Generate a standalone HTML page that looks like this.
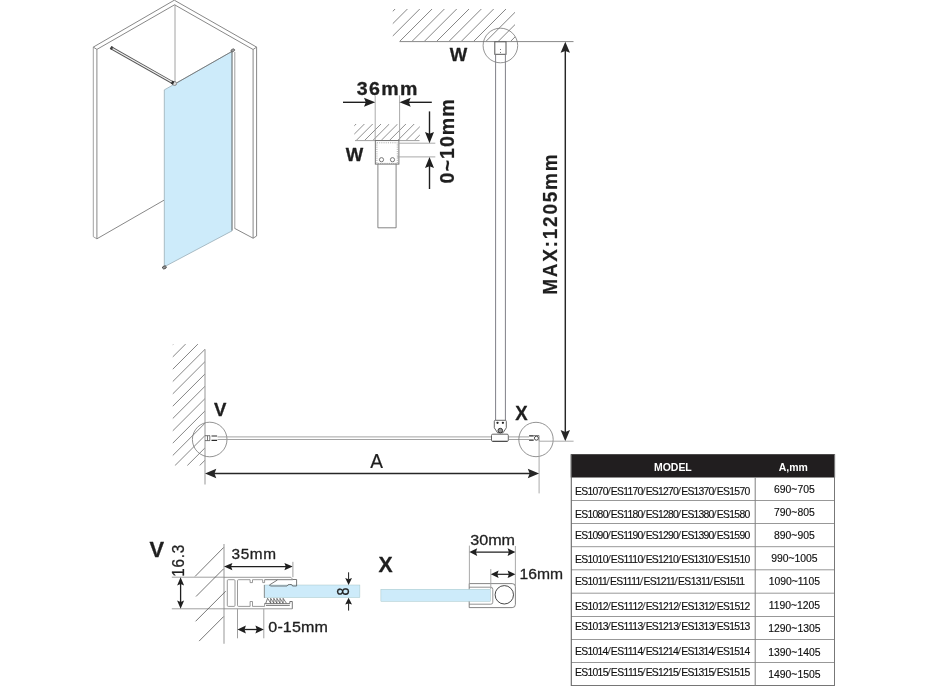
<!DOCTYPE html>
<html lang="en"><head><meta charset="utf-8"><title>Walk-in shower technical drawing</title>
<style>
html,body{margin:0;padding:0;background:#fff;}
body{width:928px;height:686px;overflow:hidden;}
svg{display:block;will-change:transform;font-family:"Liberation Sans",Arial,Helvetica,sans-serif;}
</style></head><body>
<svg width="928" height="686" viewBox="0 0 928 686">
<rect width="928" height="686" fill="#fff"/>
<g fill="none" stroke="#7a7a7a" stroke-width="0.9" stroke-linejoin="round">
<polyline points="93.3,47.1 174.3,0.2 256.6,47.1"/>
<polyline points="96.9,49.4 174.6,4.8 253.1,49.5"/>
<polyline points="93.3,47.1 93.3,236.7 96.9,238.8" stroke="#999"/>
<line x1="96.9" y1="238.8" x2="96.9" y2="49.4"/>
<line x1="93.3" y1="47.1" x2="96.9" y2="49.4"/>
<line x1="96.9" y1="238.8" x2="164" y2="200.2"/>
<line x1="175" y1="4.8" x2="175" y2="82" stroke="#8c8c8c" stroke-width="0.8"/>
<polyline points="256.6,47.1 256.6,236 253.1,238.2 253.1,49.5"/>
<line x1="256.6" y1="47.1" x2="253.1" y2="49.5"/>
<line x1="234.5" y1="228.3" x2="253.1" y2="238.2"/>
<line x1="234.8" y1="52" x2="234.8" y2="228.3" stroke="#888" stroke-width="0.8"/>
</g>
<polygon points="164.3,89.9 232,51.4 232,230.9 164.3,266.8" fill="#cdebfa" stroke="#8fa3ad" stroke-width="0.7"/>
<line x1="232" y1="51.4" x2="232" y2="230.5" stroke="#666" stroke-width="0.8"/>
<line x1="177" y1="82.7" x2="232" y2="51.4" stroke="#6c6c6c" stroke-width="0.8"/>
<g stroke-linecap="butt">
<line x1="110.8" y1="47.6" x2="173.6" y2="83.2" stroke="#555" stroke-width="3"/>
<line x1="111.5" y1="48" x2="172.6" y2="82.6" stroke="#f2f2f2" stroke-width="1.2"/>
</g>
<circle cx="174.6" cy="83.5" r="2" fill="#ddd" stroke="#777" stroke-width="0.8"/>
<line x1="171.6" y1="82" x2="173.6" y2="83.2" stroke="#333" stroke-width="3.4"/>
<line x1="110.6" y1="47.4" x2="112.6" y2="48.6" stroke="#444" stroke-width="3.4"/>
<ellipse cx="232.8" cy="50.4" rx="2" ry="1.3" fill="#999" stroke="#555" stroke-width="0.7" transform="rotate(-25 232.8 50.4)"/>
<ellipse cx="164.4" cy="267.4" rx="2" ry="1.4" fill="#999" stroke="#444" stroke-width="0.8" transform="rotate(-20 164.4 267.4)"/>
<clipPath id="hc1"><rect x="354.3" y="124" width="65.5" height="16.400000000000006"/></clipPath>
<g clip-path="url(#hc1)" stroke="#6a6a6a" stroke-width="0.75">
<line x1="339.70" y1="140.40" x2="356.10" y2="124.00"/>
<line x1="348.00" y1="140.40" x2="364.40" y2="124.00"/>
<line x1="356.30" y1="140.40" x2="372.70" y2="124.00"/>
<line x1="364.60" y1="140.40" x2="381.00" y2="124.00"/>
<line x1="372.90" y1="140.40" x2="389.30" y2="124.00"/>
<line x1="381.20" y1="140.40" x2="397.60" y2="124.00"/>
<line x1="389.50" y1="140.40" x2="405.90" y2="124.00"/>
<line x1="397.80" y1="140.40" x2="414.20" y2="124.00"/>
<line x1="406.10" y1="140.40" x2="422.50" y2="124.00"/>
<line x1="414.40" y1="140.40" x2="430.80" y2="124.00"/>
</g>
<line x1="355.00" y1="140.60" x2="419.50" y2="140.60" stroke="#a0a0a0" stroke-width="1" />
<line x1="375.20" y1="95.40" x2="375.20" y2="140.60" stroke="#a0a0a0" stroke-width="0.9" />
<line x1="399.60" y1="95.40" x2="399.60" y2="140.60" stroke="#a0a0a0" stroke-width="0.9" />
<rect x="375.3" y="140.6" width="23.6" height="23.5" fill="#fff" stroke="#666" stroke-width="0.9"/>
<rect x="376.9" y="142.8" width="20.4" height="20.6" fill="none" stroke="#777" stroke-width="0.6" stroke-dasharray="1.1 1.1"/>
<circle cx="381.5" cy="159.7" r="2.1" fill="#fff" stroke="#444" stroke-width="0.7"/>
<circle cx="392.5" cy="159.7" r="2.1" fill="#fff" stroke="#444" stroke-width="0.7"/>
<polyline points="377.9,164.2 377.9,227.8 396.1,227.8 396.1,164.2" fill="none" stroke="#777" stroke-width="0.9"/>
<line x1="398.90" y1="143.20" x2="435.30" y2="143.20" stroke="#a0a0a0" stroke-width="0.9" />
<line x1="397.30" y1="156.90" x2="435.30" y2="156.90" stroke="#a0a0a0" stroke-width="0.9" />
<line x1="343.00" y1="102.30" x2="366.24" y2="102.30" stroke="#1f1f1f" stroke-width="1.4"/>
<polygon points="375.20,102.30 364.00,106.80 365.79,102.30 364.00,97.80" fill="#1f1f1f"/>
<line x1="431.80" y1="102.30" x2="408.46" y2="102.30" stroke="#1f1f1f" stroke-width="1.4"/>
<polygon points="399.50,102.30 410.70,97.80 408.91,102.30 410.70,106.80" fill="#1f1f1f"/>
<line x1="429.50" y1="111.40" x2="429.50" y2="134.24" stroke="#1f1f1f" stroke-width="1.4"/>
<polygon points="429.50,143.20 425.00,132.00 429.50,133.79 434.00,132.00" fill="#1f1f1f"/>
<line x1="429.50" y1="189.00" x2="429.50" y2="165.86" stroke="#1f1f1f" stroke-width="1.4"/>
<polygon points="429.50,156.90 434.00,168.10 429.50,166.31 425.00,168.10" fill="#1f1f1f"/>
<text transform="translate(356.76 94.57) scale(1.0700 1)" fill="#1f1f1f" font-size="18.31" font-weight="bold" letter-spacing="1.291" stroke="#1f1f1f" stroke-width="0.3" stroke-linejoin="round">36mm</text>
<text transform="translate(453.90 183.48) rotate(-90) scale(0.9650 1)" fill="#1f1f1f" font-size="20.28" font-weight="bold" letter-spacing="1.115" stroke="#1f1f1f" stroke-width="0.2" stroke-linejoin="round">0~10mm</text>
<text transform="translate(345.75 161.35) scale(1.0057 1)" fill="#1f1f1f" font-size="18.41" font-weight="bold" stroke="#1f1f1f" stroke-width="0.3" stroke-linejoin="round">W</text>
<clipPath id="hc2"><rect x="392.8" y="9" width="122.19999999999999" height="32.3"/></clipPath>
<g clip-path="url(#hc2)" stroke="#666" stroke-width="0.8">
<line x1="362.80" y1="41.30" x2="395.10" y2="9.00"/>
<line x1="375.12" y1="41.30" x2="407.42" y2="9.00"/>
<line x1="387.44" y1="41.30" x2="419.74" y2="9.00"/>
<line x1="399.76" y1="41.30" x2="432.06" y2="9.00"/>
<line x1="412.08" y1="41.30" x2="444.38" y2="9.00"/>
<line x1="424.40" y1="41.30" x2="456.70" y2="9.00"/>
<line x1="436.72" y1="41.30" x2="469.02" y2="9.00"/>
<line x1="449.04" y1="41.30" x2="481.34" y2="9.00"/>
<line x1="461.36" y1="41.30" x2="493.66" y2="9.00"/>
<line x1="473.68" y1="41.30" x2="505.98" y2="9.00"/>
<line x1="486.00" y1="41.30" x2="518.30" y2="9.00"/>
<line x1="498.32" y1="41.30" x2="530.62" y2="9.00"/>
<line x1="510.64" y1="41.30" x2="542.94" y2="9.00"/>
</g>
<line x1="399.50" y1="41.60" x2="573.50" y2="41.60" stroke="#888" stroke-width="1" />
<circle cx="500.4" cy="45.5" r="17.3" fill="none" stroke="#777" stroke-width="0.8"/>
<rect x="494.8" y="41.8" width="11.2" height="12.5" fill="#fff" stroke="#555" stroke-width="1"/>
<circle cx="500.5" cy="49.4" r="0.5" fill="#555"/>
<circle cx="500.5" cy="52.6" r="0.5" fill="#555"/>
<line x1="495.60" y1="54.40" x2="495.60" y2="420.40" stroke="#808088" stroke-width="1" />
<line x1="505.40" y1="54.40" x2="505.40" y2="420.40" stroke="#808088" stroke-width="1" />
<text transform="translate(449.65 60.85) scale(0.9750 1)" fill="#1f1f1f" font-size="18.99" font-weight="bold" stroke="#1f1f1f" stroke-width="0.3" stroke-linejoin="round">W</text>
<line x1="565.30" y1="432.32" x2="565.30" y2="50.58" stroke="#262626" stroke-width="1.45"/>
<polygon points="565.30,41.70 570.00,52.80 565.30,51.02 560.60,52.80" fill="#262626"/>
<polygon points="565.30,441.20 570.00,430.10 565.30,431.88 560.60,430.10" fill="#262626"/>
<text transform="translate(557.40 294.74) rotate(-90) scale(0.9650 1)" fill="#1f1f1f" font-size="19.72" font-weight="bold" letter-spacing="1.802" stroke="#1f1f1f" stroke-width="0.2" stroke-linejoin="round">MAX:1205mm</text>
<clipPath id="hc3"><rect x="172.8" y="344.1" width="32.19999999999999" height="121.59999999999997"/></clipPath>
<g clip-path="url(#hc3)" stroke="#707070" stroke-width="0.85">
<line x1="51.64" y1="465.70" x2="173.24" y2="344.10"/>
<line x1="63.96" y1="465.70" x2="185.56" y2="344.10"/>
<line x1="76.28" y1="465.70" x2="197.88" y2="344.10"/>
<line x1="88.60" y1="465.70" x2="210.20" y2="344.10"/>
<line x1="100.92" y1="465.70" x2="222.52" y2="344.10"/>
<line x1="113.24" y1="465.70" x2="234.84" y2="344.10"/>
<line x1="125.56" y1="465.70" x2="247.16" y2="344.10"/>
<line x1="137.88" y1="465.70" x2="259.48" y2="344.10"/>
<line x1="150.20" y1="465.70" x2="271.80" y2="344.10"/>
<line x1="162.52" y1="465.70" x2="284.12" y2="344.10"/>
<line x1="174.84" y1="465.70" x2="296.44" y2="344.10"/>
<line x1="187.16" y1="465.70" x2="308.76" y2="344.10"/>
<line x1="199.48" y1="465.70" x2="321.08" y2="344.10"/>
</g>
<line x1="205.00" y1="349.20" x2="205.00" y2="484.50" stroke="#a0a0a0" stroke-width="1.1" />
<circle cx="209.7" cy="439.5" r="17.3" fill="none" stroke="#777" stroke-width="0.8"/>
<line x1="217.50" y1="436.90" x2="492.00" y2="436.90" stroke="#999" stroke-width="0.9" />
<line x1="217.50" y1="439.50" x2="492.00" y2="439.50" stroke="#999" stroke-width="0.9" />
<line x1="509.00" y1="436.90" x2="529.00" y2="436.90" stroke="#999" stroke-width="0.9" />
<line x1="509.00" y1="439.50" x2="529.00" y2="439.50" stroke="#999" stroke-width="0.9" />
<text transform="translate(214.06 416.45) scale(0.9805 1)" fill="#1f1f1f" font-size="18.99" font-weight="bold" stroke="#1f1f1f" stroke-width="0.3" stroke-linejoin="round">V</text>
<text transform="translate(515.36 420.25) scale(0.9580 1)" fill="#1f1f1f" font-size="19.42" font-weight="bold" stroke="#1f1f1f" stroke-width="0.3" stroke-linejoin="round">X</text>
<circle cx="536" cy="439.5" r="17.2" fill="none" stroke="#777" stroke-width="0.8"/>
<line x1="539.10" y1="441.00" x2="539.10" y2="493.40" stroke="#a0a0a0" stroke-width="0.9" />
<line x1="539.10" y1="441.20" x2="573.60" y2="441.20" stroke="#a0a0a0" stroke-width="0.9" />
<line x1="214.04" y1="473.50" x2="530.06" y2="473.50" stroke="#262626" stroke-width="1.3"/>
<polygon points="539.10,473.50 527.80,478.20 529.61,473.50 527.80,468.80" fill="#262626"/>
<polygon points="205.00,473.50 216.30,478.20 214.49,473.50 216.30,468.80" fill="#262626"/>
<text transform="translate(370.20 468.30) scale(0.9615 1)" fill="#1f1f1f" font-size="19.86" stroke="#1f1f1f" stroke-width="0.2" stroke-linejoin="round">A</text>
<path d="M494.3,421.3 Q494.3,420.3 495.3,420.3 H505.3 Q506.3,420.3 506.3,421.3 V427.8 L503,432.8 H497.6 L494.3,427.8 Z" fill="#fff" stroke="#555" stroke-width="0.9"/>
<circle cx="497.5" cy="422.8" r="1.15" fill="#222"/>
<circle cx="502.9" cy="422.8" r="1.15" fill="#222"/>
<circle cx="500.3" cy="430.6" r="2.3" fill="#999" stroke="#333" stroke-width="1"/>
<rect x="491.5" y="434.2" width="16.8" height="7.2" rx="1.2" fill="#fff" stroke="#555" stroke-width="0.9"/>
<line x1="492.5" y1="441.3" x2="507.3" y2="441.3" stroke="#444" stroke-width="1"/>
<path d="M205,435.7 h5 M205,440.6 h5 M207.5,435.7 v4.9 M209.8,435.7 v4.9" fill="none" stroke="#555" stroke-width="0.8"/>
<path d="M211.5,436 h5.6 M211.5,440.3 h5.6" fill="none" stroke="#2a2a2a" stroke-width="1.2"/>
<path d="M529.1,435.9 h4.6 M529.1,440.2 h4.6" fill="none" stroke="#2a2a2a" stroke-width="1.3"/>
<path d="M533.7,435.5 H539 V441" fill="none" stroke="#666" stroke-width="0.8"/>
<circle cx="536.4" cy="438.2" r="2" fill="#fff" stroke="#333" stroke-width="0.9"/>
<text transform="translate(149.53 556.85) scale(0.9983 1)" fill="#1f1f1f" font-size="21.88" font-weight="bold" stroke="#1f1f1f" stroke-width="0.3" stroke-linejoin="round">V</text>
<text transform="translate(184.09 576.69) rotate(-90) scale(0.9650 1)" fill="#1f1f1f" font-size="15.77" letter-spacing="0.801" stroke="#1f1f1f" stroke-width="0.3" stroke-linejoin="round">16.3</text>
<line x1="171.80" y1="577.20" x2="224.00" y2="577.20" stroke="#a0a0a0" stroke-width="1" />
<line x1="171.80" y1="608.80" x2="224.00" y2="608.80" stroke="#a0a0a0" stroke-width="1" />
<line x1="224.00" y1="544.00" x2="224.00" y2="643.70" stroke="#a0a0a0" stroke-width="1.1" />
<g stroke="#555" stroke-width="0.8">
<line x1="195.1" y1="576.4" x2="223.6" y2="547.5"/>
<line x1="196" y1="596.5" x2="223.6" y2="568.8"/>
<line x1="195.6" y1="621.3" x2="225.7" y2="591.2"/>
<line x1="199.1" y1="641.1" x2="223.6" y2="616.6"/>
</g>
<line x1="230.72" y1="566.60" x2="286.08" y2="566.60" stroke="#1f1f1f" stroke-width="1.3"/>
<polygon points="292.80,566.60 284.40,570.20 285.74,566.60 284.40,563.00" fill="#1f1f1f"/>
<polygon points="224.00,566.60 232.40,570.20 231.06,566.60 232.40,563.00" fill="#1f1f1f"/>
<text transform="translate(231.44 559.21) scale(1.0800 1)" fill="#1f1f1f" font-size="14.23" letter-spacing="0.611" stroke="#1f1f1f" stroke-width="0.3" stroke-linejoin="round">35mm</text>
<line x1="292.90" y1="561.80" x2="292.90" y2="577.20" stroke="#a0a0a0" stroke-width="1" />
<rect x="264.1" y="585" width="95.8" height="12.6" fill="#cdebfa" stroke="#9bb" stroke-width="0.4"/>
<g fill="none" stroke="#808080" stroke-width="0.8" stroke-linejoin="round">
<path d="M223.8,577.3 H290.8 L292.8,579.4 M223.8,608.8 H292.3"/>
<rect x="227.3" y="579.7" width="7.7" height="26.7" rx="1"/>
<path d="M238.5,579.7 H250.1 V582.6 H252.5 V579.7 H262.7 V582.6 H264.6 V579.7 M264.4,585 V598 M264.6,603.5 V606.4 H252.5 V601.5 H250.1 V606.4 H238.5 Q237.5,606.4 237.5,605.4 V580.7 Q237.5,579.7 238.5,579.7"/>
</g>
<g fill="none" stroke="#555" stroke-width="0.8" stroke-linejoin="round">
<path d="M264.6,579.7 H292.8 M277.4,580 L269.4,585 L270.4,586 H287 Q287.8,584.5 289.2,584.5 H291.2 Q292.3,584.6 292.5,586 H296.6 V579.5 H292.8"/>
<path d="M264.6,603.6 H289.8 V601.5 H292.3 V608.8 M266,605.4 H289.8"/>
<path d="M265.8,603.2 L267.6,598.3 l3.1,4.9 v-4.9 l3.1,4.9 v-4.9 l3.1,4.9 v-4.9 l3.1,4.9 v-4.9 l3.1,4.9 v-4.9 l3.3,4.9" stroke="#444" stroke-width="0.7"/>
</g>
<text transform="translate(348.79 595.48) rotate(-90) scale(0.8902 1)" fill="#1f1f1f" font-size="15.77" stroke="#1f1f1f" stroke-width="0.3" stroke-linejoin="round">8</text>
<line x1="348.60" y1="572.30" x2="348.60" y2="579.46" stroke="#1f1f1f" stroke-width="1"/>
<polygon points="348.60,584.90 345.20,578.10 348.60,579.19 352.00,578.10" fill="#1f1f1f"/>
<line x1="348.60" y1="610.60" x2="348.60" y2="603.14" stroke="#1f1f1f" stroke-width="1"/>
<polygon points="348.60,597.70 352.00,604.50 348.60,603.41 345.20,604.50" fill="#1f1f1f"/>
<line x1="180.60" y1="583.76" x2="180.60" y2="602.24" stroke="#1f1f1f" stroke-width="1.3"/>
<polygon points="180.60,608.80 177.10,600.60 180.60,601.91 184.10,600.60" fill="#1f1f1f"/>
<polygon points="180.60,577.20 177.10,585.40 180.60,584.09 184.10,585.40" fill="#1f1f1f"/>
<line x1="237.50" y1="608.80" x2="237.50" y2="638.30" stroke="#a0a0a0" stroke-width="1" />
<line x1="263.80" y1="608.80" x2="263.80" y2="638.30" stroke="#a0a0a0" stroke-width="1" />
<line x1="244.22" y1="629.50" x2="257.08" y2="629.50" stroke="#1f1f1f" stroke-width="1.3"/>
<polygon points="263.80,629.50 255.40,633.50 256.74,629.50 255.40,625.50" fill="#1f1f1f"/>
<polygon points="237.50,629.50 245.90,633.50 244.56,629.50 245.90,625.50" fill="#1f1f1f"/>
<text transform="translate(268.31 632.01) scale(1.1200 1)" fill="#1f1f1f" font-size="14.37" letter-spacing="0.111" stroke="#1f1f1f" stroke-width="0.3" stroke-linejoin="round">0-15mm</text>
<text transform="translate(378.44 571.95) scale(0.9903 1)" fill="#1f1f1f" font-size="21.45" font-weight="bold" stroke="#1f1f1f" stroke-width="0.3" stroke-linejoin="round">X</text>
<path d="M469.2,583.6 H512.2 a3.2,3.2 0 0 1 3.2,3.2 V604.4 a3.2,3.2 0 0 1 -3.2,3.2 H469.2 Z" fill="#fff" stroke="#666" stroke-width="0.8"/>
<path d="M469.2,587.2 H490.8 a2,2 0 0 1 2,2 V602.2 a2,2 0 0 1 -2,2 H469.2" fill="none" stroke="#777" stroke-width="0.8"/>
<rect x="380.9" y="589.2" width="109.6" height="12.2" fill="#cdebfa" stroke="#9bb" stroke-width="0.4"/>
<circle cx="504.3" cy="594.8" r="9.2" fill="#fff" stroke="#333" stroke-width="0.9"/>
<line x1="469.40" y1="545.60" x2="469.40" y2="583.50" stroke="#a0a0a0" stroke-width="0.9" />
<line x1="515.40" y1="546.00" x2="515.40" y2="586.00" stroke="#a0a0a0" stroke-width="0.9" />
<line x1="490.80" y1="569.00" x2="490.80" y2="589.00" stroke="#a0a0a0" stroke-width="0.9" />
<line x1="475.64" y1="552.10" x2="509.16" y2="552.10" stroke="#1f1f1f" stroke-width="1.2"/>
<polygon points="515.40,552.10 507.60,555.90 508.85,552.10 507.60,548.30" fill="#1f1f1f"/>
<polygon points="469.40,552.10 477.20,555.90 475.95,552.10 477.20,548.30" fill="#1f1f1f"/>
<line x1="497.04" y1="574.30" x2="509.16" y2="574.30" stroke="#1f1f1f" stroke-width="1.2"/>
<polygon points="515.40,574.30 507.60,578.10 508.85,574.30 507.60,570.50" fill="#1f1f1f"/>
<polygon points="490.80,574.30 498.60,578.10 497.35,574.30 498.60,570.50" fill="#1f1f1f"/>
<text transform="translate(470.20 545.15) scale(1.0515 1)" fill="#1f1f1f" font-size="15.35" stroke="#1f1f1f" stroke-width="0.3" stroke-linejoin="round">30mm</text>
<text transform="translate(519.47 579.00) scale(1.0117 1)" fill="#1f1f1f" font-size="15.49" stroke="#1f1f1f" stroke-width="0.3" stroke-linejoin="round">16mm</text>
<rect x="570.8" y="454.2" width="264.30000000000007" height="23.30000000000001" fill="#211e1f"/>
<text transform="translate(653.92 471.29) scale(0.9317 1)" fill="#fff" font-size="11.27" font-weight="bold">MODEL</text>
<text transform="translate(778.74 470.91) scale(0.9629 1)" fill="#fff" font-size="10.89" font-weight="bold">A,mm</text>
<line x1="571.30" y1="500.50" x2="834.80" y2="500.50" stroke="#8c8c8c" stroke-width="0.9" />
<text transform="translate(606.90 495.4) scale(1.4 1)" font-size="10.4" fill="#555">/</text>
<text transform="translate(641.70 495.4) scale(1.4 1)" font-size="10.4" fill="#555">/</text>
<text transform="translate(677.30 495.4) scale(1.4 1)" font-size="10.4" fill="#555">/</text>
<text transform="translate(712.80 495.4) scale(1.4 1)" font-size="10.4" fill="#555">/</text>
<text y="495.4" font-size="10.4" fill="#111" stroke="#111" stroke-width="0.15"><tspan x="575.07" letter-spacing="-0.715">ES1070</tspan><tspan x="610.87" letter-spacing="-0.759">ES1170</tspan><tspan x="645.67" letter-spacing="-0.755">ES1270</tspan><tspan x="681.27" letter-spacing="-0.775">ES1370</tspan><tspan x="716.77" letter-spacing="-0.695">ES1570</tspan></text>
<text x="794.4" y="493.4" fill="#111" font-size="10.4" text-anchor="middle" stroke="#111" stroke-width="0.15">690~705</text>
<line x1="571.30" y1="523.50" x2="834.80" y2="523.50" stroke="#8c8c8c" stroke-width="0.9" />
<text transform="translate(606.90 518.0) scale(1.4 1)" font-size="10.4" fill="#555">/</text>
<text transform="translate(641.70 518.0) scale(1.4 1)" font-size="10.4" fill="#555">/</text>
<text transform="translate(677.30 518.0) scale(1.4 1)" font-size="10.4" fill="#555">/</text>
<text transform="translate(712.80 518.0) scale(1.4 1)" font-size="10.4" fill="#555">/</text>
<text y="518.0" font-size="10.4" fill="#111" stroke="#111" stroke-width="0.15"><tspan x="575.07" letter-spacing="-0.715">ES1080</tspan><tspan x="610.87" letter-spacing="-0.759">ES1180</tspan><tspan x="645.67" letter-spacing="-0.755">ES1280</tspan><tspan x="681.27" letter-spacing="-0.775">ES1380</tspan><tspan x="716.77" letter-spacing="-0.695">ES1580</tspan></text>
<text x="794.4" y="515.8" fill="#111" font-size="10.4" text-anchor="middle" stroke="#111" stroke-width="0.15">790~805</text>
<line x1="571.30" y1="546.70" x2="834.80" y2="546.70" stroke="#8c8c8c" stroke-width="0.9" />
<text transform="translate(606.90 539.1) scale(1.4 1)" font-size="10.4" fill="#555">/</text>
<text transform="translate(641.70 539.1) scale(1.4 1)" font-size="10.4" fill="#555">/</text>
<text transform="translate(677.30 539.1) scale(1.4 1)" font-size="10.4" fill="#555">/</text>
<text transform="translate(712.80 539.1) scale(1.4 1)" font-size="10.4" fill="#555">/</text>
<text y="539.1" font-size="10.4" fill="#111" stroke="#111" stroke-width="0.15"><tspan x="575.07" letter-spacing="-0.715">ES1090</tspan><tspan x="610.87" letter-spacing="-0.759">ES1190</tspan><tspan x="645.67" letter-spacing="-0.755">ES1290</tspan><tspan x="681.27" letter-spacing="-0.775">ES1390</tspan><tspan x="716.77" letter-spacing="-0.695">ES1590</tspan></text>
<text x="794.4" y="539.3" fill="#111" font-size="10.4" text-anchor="middle" stroke="#111" stroke-width="0.15">890~905</text>
<line x1="571.30" y1="569.80" x2="834.80" y2="569.80" stroke="#8c8c8c" stroke-width="0.9" />
<text transform="translate(606.90 563.2) scale(1.4 1)" font-size="10.4" fill="#555">/</text>
<text transform="translate(641.70 563.2) scale(1.4 1)" font-size="10.4" fill="#555">/</text>
<text transform="translate(677.30 563.2) scale(1.4 1)" font-size="10.4" fill="#555">/</text>
<text transform="translate(712.80 563.2) scale(1.4 1)" font-size="10.4" fill="#555">/</text>
<text y="563.2" font-size="10.4" fill="#111" stroke="#111" stroke-width="0.15"><tspan x="575.07" letter-spacing="-0.715">ES1010</tspan><tspan x="610.87" letter-spacing="-0.603">ES1110</tspan><tspan x="645.67" letter-spacing="-0.755">ES1210</tspan><tspan x="681.27" letter-spacing="-0.775">ES1310</tspan><tspan x="716.77" letter-spacing="-0.695">ES1510</tspan></text>
<text x="794.4" y="562.2" fill="#111" font-size="10.4" text-anchor="middle" stroke="#111" stroke-width="0.15">990~1005</text>
<line x1="571.30" y1="593.20" x2="834.80" y2="593.20" stroke="#8c8c8c" stroke-width="0.9" />
<text transform="translate(606.10 584.8) scale(1.4 1)" font-size="10.4" fill="#555">/</text>
<text transform="translate(639.60 584.8) scale(1.4 1)" font-size="10.4" fill="#555">/</text>
<text transform="translate(674.00 584.8) scale(1.4 1)" font-size="10.4" fill="#555">/</text>
<text transform="translate(709.60 584.8) scale(1.4 1)" font-size="10.4" fill="#555">/</text>
<text y="584.8" font-size="10.4" fill="#111" stroke="#111" stroke-width="0.15"><tspan x="575.07" letter-spacing="-0.698">ES1011</tspan><tspan x="610.07" letter-spacing="-0.686">ES1111</tspan><tspan x="643.57" letter-spacing="-0.818">ES1211</tspan><tspan x="677.97" letter-spacing="-0.578">ES1311</tspan><tspan x="713.57" letter-spacing="-0.958">ES1511</tspan></text>
<text x="794.4" y="584.6" fill="#111" font-size="10.4" text-anchor="middle" stroke="#111" stroke-width="0.15">1090~1105</text>
<line x1="571.30" y1="616.50" x2="834.80" y2="616.50" stroke="#8c8c8c" stroke-width="0.9" />
<text transform="translate(606.90 609.6) scale(1.4 1)" font-size="10.4" fill="#555">/</text>
<text transform="translate(641.70 609.6) scale(1.4 1)" font-size="10.4" fill="#555">/</text>
<text transform="translate(677.30 609.6) scale(1.4 1)" font-size="10.4" fill="#555">/</text>
<text transform="translate(712.80 609.6) scale(1.4 1)" font-size="10.4" fill="#555">/</text>
<text y="609.6" font-size="10.4" fill="#111" stroke="#111" stroke-width="0.15"><tspan x="575.07" letter-spacing="-0.694">ES1012</tspan><tspan x="610.87" letter-spacing="-0.582">ES1112</tspan><tspan x="645.67" letter-spacing="-0.734">ES1212</tspan><tspan x="681.27" letter-spacing="-0.754">ES1312</tspan><tspan x="716.77" letter-spacing="-0.674">ES1512</tspan></text>
<text x="794.4" y="608.5" fill="#111" font-size="10.4" text-anchor="middle" stroke="#111" stroke-width="0.15">1190~1205</text>
<line x1="571.30" y1="639.50" x2="834.80" y2="639.50" stroke="#8c8c8c" stroke-width="0.9" />
<text transform="translate(606.90 630.3) scale(1.4 1)" font-size="10.4" fill="#555">/</text>
<text transform="translate(641.70 630.3) scale(1.4 1)" font-size="10.4" fill="#555">/</text>
<text transform="translate(677.30 630.3) scale(1.4 1)" font-size="10.4" fill="#555">/</text>
<text transform="translate(712.80 630.3) scale(1.4 1)" font-size="10.4" fill="#555">/</text>
<text y="630.3" font-size="10.4" fill="#111" stroke="#111" stroke-width="0.15"><tspan x="575.07" letter-spacing="-0.705">ES1013</tspan><tspan x="610.87" letter-spacing="-0.593">ES1113</tspan><tspan x="645.67" letter-spacing="-0.745">ES1213</tspan><tspan x="681.27" letter-spacing="-0.765">ES1313</tspan><tspan x="716.77" letter-spacing="-0.685">ES1513</tspan></text>
<text x="794.4" y="632" fill="#111" font-size="10.4" text-anchor="middle" stroke="#111" stroke-width="0.15">1290~1305</text>
<line x1="571.30" y1="662.50" x2="834.80" y2="662.50" stroke="#8c8c8c" stroke-width="0.9" />
<text transform="translate(606.90 655) scale(1.4 1)" font-size="10.4" fill="#555">/</text>
<text transform="translate(641.70 655) scale(1.4 1)" font-size="10.4" fill="#555">/</text>
<text transform="translate(677.30 655) scale(1.4 1)" font-size="10.4" fill="#555">/</text>
<text transform="translate(712.80 655) scale(1.4 1)" font-size="10.4" fill="#555">/</text>
<text y="655" font-size="10.4" fill="#111" stroke="#111" stroke-width="0.15"><tspan x="575.07" letter-spacing="-0.736">ES1014</tspan><tspan x="610.87" letter-spacing="-0.624">ES1114</tspan><tspan x="645.67" letter-spacing="-0.776">ES1214</tspan><tspan x="681.27" letter-spacing="-0.796">ES1314</tspan><tspan x="716.77" letter-spacing="-0.716">ES1514</tspan></text>
<text x="794.4" y="655.7" fill="#111" font-size="10.4" text-anchor="middle" stroke="#111" stroke-width="0.15">1390~1405</text>
<line x1="571.30" y1="685.50" x2="834.80" y2="685.50" stroke="#666" stroke-width="0.9" />
<text transform="translate(606.90 676) scale(1.4 1)" font-size="10.4" fill="#555">/</text>
<text transform="translate(641.70 676) scale(1.4 1)" font-size="10.4" fill="#555">/</text>
<text transform="translate(677.30 676) scale(1.4 1)" font-size="10.4" fill="#555">/</text>
<text transform="translate(712.80 676) scale(1.4 1)" font-size="10.4" fill="#555">/</text>
<text y="676" font-size="10.4" fill="#111" stroke="#111" stroke-width="0.15"><tspan x="575.07" letter-spacing="-0.715">ES1015</tspan><tspan x="610.87" letter-spacing="-0.603">ES1115</tspan><tspan x="645.67" letter-spacing="-0.755">ES1215</tspan><tspan x="681.27" letter-spacing="-0.775">ES1315</tspan><tspan x="716.77" letter-spacing="-0.695">ES1515</tspan></text>
<text x="794.4" y="677.9" fill="#111" font-size="10.4" text-anchor="middle" stroke="#111" stroke-width="0.15">1490~1505</text>
<line x1="571.30" y1="454.20" x2="571.30" y2="686.00" stroke="#666" stroke-width="1.1" />
<line x1="834.50" y1="454.20" x2="834.50" y2="686.00" stroke="#777" stroke-width="1" />
<line x1="755.20" y1="477.50" x2="755.20" y2="686.00" stroke="#808080" stroke-width="1" />
</svg>
</body></html>
